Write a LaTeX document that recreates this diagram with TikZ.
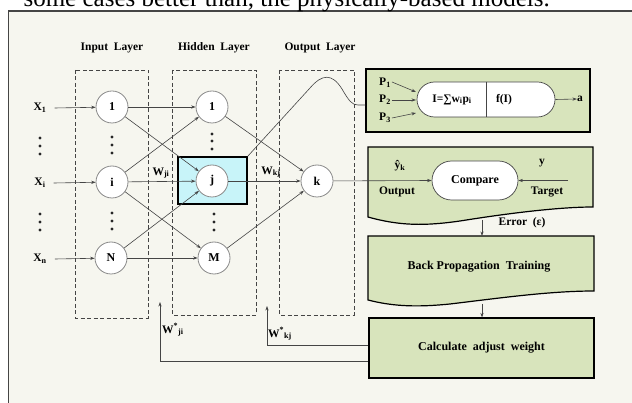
\documentclass[tikz,border=0pt]{standalone}
\usepackage{fontspec}
\setmainfont{Liberation Serif}
\usetikzlibrary{arrows.meta,shapes.misc}
\definecolor{bgc}{HTML}{F6F6EF}
\definecolor{grn}{HTML}{D8E4BC}
\definecolor{cyn}{HTML}{C8F4F9}
\definecolor{ln}{HTML}{454545}
\definecolor{circ}{HTML}{8A8A8A}
\begin{document}
\begin{tikzpicture}[x=1pt,y=-1pt,
  lbl/.style={font=\fontsize{11.5}{13}\selectfont\bfseries, inner sep=0pt},
  neuron/.style={circle, draw=circ, line width=0.8pt, fill=white, minimum size=32pt, inner sep=0pt, font=\fontsize{12}{13}\selectfont\bfseries},
  conn/.style={draw=ln, line width=0.6pt, -{Stealth[length=4.5pt,width=3.2pt]}},
  plain/.style={draw=ln, line width=0.6pt},
  layerbox/.style={draw=ln, dashed, dash pattern=on 4pt off 2.5pt, line width=0.7pt},
  gbox/.style={fill=grn, draw=black, line width=1.2pt},
  capsule/.style={rounded rectangle, draw=ln, line width=0.7pt, fill=white, inner sep=0pt}
]
\useasboundingbox (0,0) rectangle (632,403);
\fill[white] (0,0) rectangle (632,403);
\fill[bgc] (8.5,11) rectangle (640,410);
\draw[draw=ln, line width=1.1pt] (8.5,410) -- (8.5,11) -- (640,11);
\node[anchor=base east, inner sep=0pt, font=\fontsize{25}{28}\selectfont] (toptext) at (550,7) {some cases better than, the physically-based models.};

% headers
\node[lbl] (hdrIn) at (112,48) {Input\ \ Layer};
\node[lbl] (hdrHid) at (214,48) {Hidden\ \ Layer};
\node[lbl] (hdrOut) at (320,48) {Output\ \ Layer};

% dashed layer boxes
\draw[layerbox] (75,70) rectangle (148,318);
\draw[layerbox] (172,70) rectangle (256,315);
\draw[layerbox] (279,70) rectangle (354,315);

% highlight box round j
\node[draw=black, line width=1.3pt, fill=cyn, minimum width=69pt, minimum height=47pt, inner sep=0pt] (jbox) at (212.5,180.5) {};

% neurons
\node[neuron] (in1) at (112,107) {1};
\node[neuron] (ini) at (112,182) {i};
\node[neuron] (inN) at (111,258) {N};
\node[neuron] (h1) at (212,107) {1};
\node[neuron] (hj) at (212,181) {j};
\node[neuron] (hM) at (214,258) {M};
\node[neuron] (ok) at (317,181) {k};

% inputs
\node[lbl] (x1) at (40,108) {X\textsubscript{1}};
\node[lbl] (xi) at (40,183) {X\textsubscript{i}};
\node[lbl] (xn) at (40,259) {X\textsubscript{n}};
\draw[conn] ([xshift=8pt]x1.east) -- (in1);
\draw[conn] ([xshift=8pt]xi.east) -- (ini);
\draw[conn] ([xshift=8pt]xn.east) -- (inN);

% vertical dots
\foreach \x/\y in {40/138,40/146,40/154,40/214,40/222,40/230,
                   112/137,112/145,112/153,112/213,112/221,112/229,
                   212/134,212/141,212/149,214/214,214/222,214/230}
  \fill[black!85] (\x,\y) circle (1.7pt);

% input -> hidden
\draw[conn] (in1) -- (h1);
\draw[conn] (in1) -- (hj);
\draw[conn] (ini) -- (h1);
\draw[conn] (ini) -- (hj);
\draw[conn] (ini) -- (hM);
\draw[conn] (inN) -- (hj);
\draw[conn] (inN) -- (hM);
% hidden -> output
\draw[conn] (h1) -- (ok);
\draw[conn] (hj) -- (ok);
\draw[conn] (hM) -- (ok);

\node[lbl] (wji) at (161,173) {W\textsubscript{ji}};
\node[lbl] (wkj) at (271,172) {W\textsubscript{kj}};

% neuron detail box
\node[gbox, minimum width=224pt, minimum height=63pt, inner sep=0pt] (neu) at (478,100.5) {};
\draw[plain] (jbox.north east) -- (310,88) .. controls (322,74) and (332,73) .. (342,89) .. controls (349,101) and (352,105) .. (358,105) -- ([yshift=-4.5pt]neu.west);
\node[capsule, minimum width=138pt, minimum height=35pt] (cap) at (486,99.5) {};
\draw[plain] (cap.north) -- (cap.south);
\node[lbl] (sumI) at (452,99.5) {I=∑w\textsubscript{i}p\textsubscript{i}};
\node[lbl] (fI) at (504,99.5) {f(I)};
\node[lbl] (p1) at (385,83) {P\textsubscript{1}};
\node[lbl] (p2) at (385,100) {P\textsubscript{2}};
\node[lbl] (p3) at (385,118) {P\textsubscript{3}};
\coordinate (c1) at (416,92);
\coordinate (c2) at (416,100);
\coordinate (c3) at (416,113);
\draw[conn] ([xshift=1pt,yshift=1pt]p1.east) -- (c1);
\draw[conn] ([xshift=1pt]p2.east) -- (c2);
\draw[conn] ([xshift=1pt]p3.east) -- (c3);
\node[lbl] (aout) at (580,99) {a};
\draw[conn] (cap.east) -- (aout.west);

% compare box (document shape)
\fill[grn] (368,147) -- (593,147) -- (593,207) .. controls (560,207) and (510,213) .. (460,221) .. controls (425,226) and (400,226) .. (368,217) -- cycle;
\draw[draw=black, line width=1.2pt] (368,147) -- (593,147) -- (593,207) .. controls (560,207) and (510,213) .. (460,221) .. controls (425,226) and (400,226) .. (368,217) -- cycle;
\node[capsule, minimum width=86pt, minimum height=39pt, font=\fontsize{12}{13}\selectfont\bfseries] (cmp) at (475,180.5) {Compare};
\draw[conn] (ok) -- (cmp.west);
\coordinate (tgt) at (568,180.5);
\draw[conn] (tgt) -- (cmp.east);
\node[lbl] (yhat) at (400,166) {ŷ\textsubscript{k}};
\node[lbl] (outl) at (397,192) {Output};
\node[lbl] (ylab) at (542,163) {y};
\node[lbl] (tgtl) at (547,192) {Target};

% back propagation box
\fill[grn] (368,236) -- (594,236) -- (594,291) .. controls (550,291) and (500,298) .. (450,304) .. controls (420,307) and (395,307) .. (368,300) -- cycle;
\draw[draw=black, line width=1.2pt] (368,236) -- (594,236) -- (594,291) .. controls (550,291) and (500,298) .. (450,304) .. controls (420,307) and (395,307) .. (368,300) -- cycle;
\node[font=\fontsize{12}{13}\selectfont\bfseries, inner sep=0pt] (bpt) at (479,267) {Back Propagation\ \ Training};
\coordinate (cmpB) at (482,220);
\coordinate (bpT) at (482,236);
\draw[conn] (cmpB) -- (bpT);
\node[lbl] (err) at (522,223) {Error\ \ (ε)};

% calculate box
\node[gbox, minimum width=225pt, minimum height=60pt, inner sep=0pt, font=\fontsize{12}{13}\selectfont\bfseries] (calc) at (481.5,348) {Calculate\ \ adjust\ \ weight};
\coordinate (bpB) at (482,304);
\draw[conn] (bpB) -- (calc.north -| bpB);

% feedback
\coordinate (kjTip) at (267,306);
\coordinate (jiTip) at (160,302);
\draw[conn] ([yshift=3pt]calc.west) -| (kjTip);
\draw[conn] ([yshift=-13pt]calc.west) -| (jiTip);
\node[lbl, anchor=west] (wsji) at (162,330) {W\textsuperscript{*}\textsubscript{ji}};
\node[lbl, anchor=west] (wskj) at (268,334) {W\textsuperscript{*}\textsubscript{kj}};
\end{tikzpicture}
\end{document}
